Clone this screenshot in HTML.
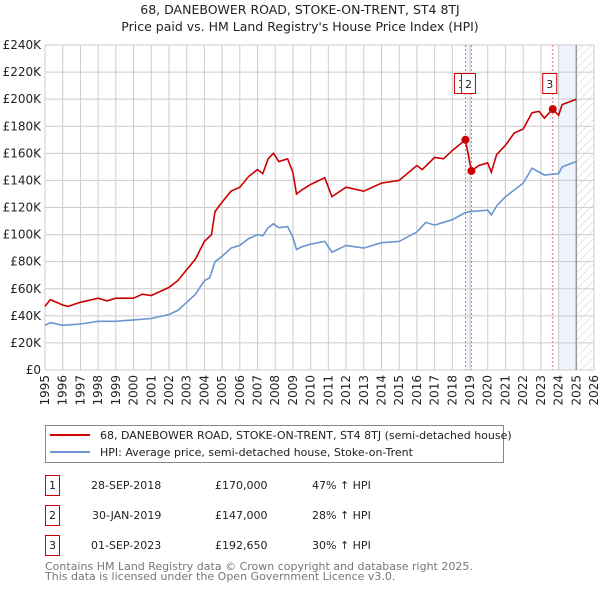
<!DOCTYPE html>
<html><head><meta charset="utf-8">
<style>
body{margin:0;background:#fff;font-family:"DejaVu Sans","Liberation Sans",sans-serif;}
svg text{font-family:"DejaVu Sans","Liberation Sans",sans-serif;}
</style></head>
<body>
<svg id="chart" width="600" height="590" xmlns="http://www.w3.org/2000/svg">
<text x="300" y="14" font-size="12.5" text-anchor="middle" fill="#222">68, DANEBOWER ROAD, STOKE-ON-TRENT, ST4 8TJ</text>
<text x="300" y="31" font-size="12.5" text-anchor="middle" fill="#222">Price paid vs. HM Land Registry's House Price Index (HPI)</text>
<g id="grid"></g>
<g id="marks"></g>
<g id="axes"></g>
<g>
<rect x="45.5" y="425.5" width="458" height="37" fill="#fff" stroke="#888"/>
<line x1="50" y1="435" x2="90" y2="435" stroke="#cc0000" stroke-width="2"/>
<text x="100" y="439" font-size="11" fill="#222">68, DANEBOWER ROAD, STOKE-ON-TRENT, ST4 8TJ (semi-detached house)</text>
<line x1="50" y1="452" x2="90" y2="452" stroke="#6a95d0" stroke-width="2"/>
<text x="100" y="456" font-size="11" fill="#222">HPI: Average price, semi-detached house, Stoke-on-Trent</text>
</g>
<g font-size="11" fill="#222">
<rect x="45.5" y="475.5" width="14" height="20" fill="none" stroke="#cc0000"/><text x="52.5" y="489" text-anchor="middle">1</text>
<text x="91" y="489">28-SEP-2018</text><text x="215" y="489">£170,000</text><text x="312" y="489">47% ↑ HPI</text>
<rect x="45.5" y="505.5" width="14" height="20" fill="none" stroke="#cc0000"/><text x="52.5" y="519" text-anchor="middle">2</text>
<text x="92" y="519">30-JAN-2019</text><text x="215" y="519">£147,000</text><text x="312" y="519">28% ↑ HPI</text>
<rect x="45.5" y="535.5" width="14" height="20" fill="none" stroke="#cc0000"/><text x="52.5" y="549" text-anchor="middle">3</text>
<text x="91" y="549">01-SEP-2023</text><text x="215" y="549">£192,650</text><text x="312" y="549">30% ↑ HPI</text>
</g>
<text x="45" y="570" font-size="11" fill="#777">Contains HM Land Registry data © Crown copyright and database right 2025.</text>
<text x="45" y="580" font-size="11" fill="#777">This data is licensed under the Open Government Licence v3.0.</text>
</svg>
<script>
const hpiYears=[1995,1995.3,1996,1997,1998,1999,2000,2001,2002,2002.5,2003,2003.5,2004,2004.3,2004.6,2005,2005.5,2006,2006.5,2007,2007.3,2007.6,2007.9,2008.2,2008.7,2009,2009.2,2009.5,2010,2010.8,2011.2,2012,2013,2014,2015,2016,2016.5,2017,2018,2018.7,2019,2020,2020.2,2020.5,2021,2022,2022.5,2023.2,2024,2024.2,2025];
const hpiValues=[33,35,33,34,36,36,37,38,41,44,50,56,66,68,80,84,90,92,97,100,99,105,108,105,106,98,89,91,93,95,87,92,90,94,95,102,109,107,111,116,117,118,114.5,121,128,138,149,144,145,150,154];
const priceYears=[1995,1995.3,1996,1996.3,1997,1998,1998.5,1999,2000,2000.5,2001,2001.5,2002,2002.5,2003,2003.5,2004,2004.4,2004.6,2005,2005.5,2006,2006.5,2007,2007.3,2007.6,2007.9,2008.2,2008.7,2009,2009.2,2009.5,2010,2010.8,2011.2,2012,2013,2014,2015,2016,2016.3,2017,2017.5,2018,2018.74,2019.08,2019.5,2020,2020.2,2020.5,2021,2021.5,2022,2022.5,2022.9,2023.2,2023.67,2024,2024.2,2025];
const priceValues=[47,52,48,47,50,53,51,53,53,56,55,58,61,66,74,82,95,100,117,124,132,135,143,148,145,156,160,154,156,146,130,133,137,142,128,135,132,138,140,151,148,157,156,162,170,147,151,153,146,159,166,175,178,190,191,186,192.65,188,196,200];
const saleYears=[2018.74,2019.08,2023.67];
const saleValues=[170,147,192.65];
const saleLabels=["1","2","3"];
const yTicks=[0,20,40,60,80,100,120,140,160,180,200,220,240];
const xTicks=[1995,1996,1997,1998,1999,2000,2001,2002,2003,2004,2005,2006,2007,2008,2009,2010,2011,2012,2013,2014,2015,2016,2017,2018,2019,2020,2021,2022,2023,2024,2025,2026];
const NS="http://www.w3.org/2000/svg";
const L=45,R=594,T=45,B=370;
const x=v=>L+(v-1995)/(2026-1995)*(R-L);
const y=v=>B-v/240*(B-T);
function mk(tag,attrs,parent){const e=document.createElementNS(NS,tag);for(const k in attrs)e.setAttribute(k,attrs[k]);parent.appendChild(e);return e;}
const grid=document.getElementById('grid'),marks=document.getElementById('marks'),axes=document.getElementById('axes');
let sh=mk('rect',{x:x(2024),y:T,width:x(2025)-x(2024),height:B-T,fill:'#eef3fc'},grid);


let sh2=mk('rect',{x:x(saleYears[0]),y:T,width:x(saleYears[1])-x(saleYears[0]),height:B-T,fill:'#eef3fc'},grid);


const defs=mk('defs',{},grid);
const pat=mk('pattern',{id:'hatch',width:6,height:6,patternUnits:'userSpaceOnUse',patternTransform:'rotate(45)'},defs);
mk('line',{x1:0,y1:0,x2:0,y2:6,stroke:'#ccc','stroke-width':1},pat);
let ht=mk('rect',{x:x(2025),y:T,width:R-x(2025),height:B-T,fill:'url(#hatch)'},grid);


yTicks.forEach(t=>{
  mk('line',{x1:L,x2:R,y1:y(t),y2:y(t),stroke:'#ccc'},grid);
  const tx=mk('text',{x:L-4,y:y(t)+4,'font-size':12,'text-anchor':'end',fill:'#222'},axes);
  
  
  tx.textContent=t===0?'£0':'£'+t+'K';
});
xTicks.forEach(t=>{
  mk('line',{x1:x(t),x2:x(t),y1:T,y2:B,stroke:'#ccc'},grid);
  const tx=mk('text',{x:0,y:0,'font-size':12,'text-anchor':'end',fill:'#222',transform:`translate(${x(t)+4},${B+5}) rotate(-90)`},axes);
  
  
  tx.textContent=t;
});
mk('line',{x1:x(2025),x2:x(2025),y1:T,y2:B,stroke:'#999','stroke-width':1.5},grid);
saleYears.forEach((s,i)=>{
  const l=mk('line',{x1:x(s),x2:x(s),y1:T,y2:B,stroke:'#ee7070','stroke-dasharray':'2,2'},marks);
  
  
});
function path(xs,vs,color,name){
  const d=xs.map((v,i)=>(i?'L':'M')+x(v).toFixed(1)+','+y(vs[i]).toFixed(1)).join('');
  const p=mk('path',{d:d,fill:'none',stroke:color,'stroke-width':1.6},marks);
  
  
}
path(hpiYears,hpiValues,'#6a95d0','hpi-line');
path(priceYears,priceValues,'#cc0000','price-line');
const boxOffsets=[-11,-10,-10];
saleYears.forEach((s,i)=>{
  const c=mk('circle',{cx:x(s),cy:y(saleValues[i]),r:4,fill:'#cc0000'},marks);
  
  
  const rx=x(s)+boxOffsets[i];
  const g=mk('g',{},marks);
  
  
  mk('rect',{x:rx,y:73.5,width:14,height:20,fill:'#fff',stroke:'#cc0000'},g);
  const t=mk('text',{x:rx+7,y:88,'font-size':11,'text-anchor':'middle',fill:'#222'},g);
  t.textContent=saleLabels[i];
});
</script>
</body></html>
